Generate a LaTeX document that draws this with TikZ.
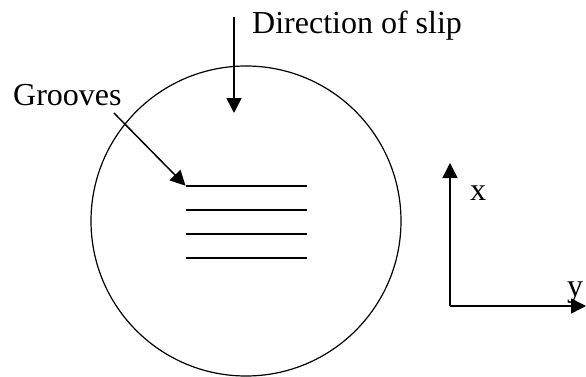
\documentclass[tikz,border=0pt]{standalone}
\usepackage{fontspec}
\setmainfont{Liberation Serif}
\usetikzlibrary{arrows.meta, positioning}

\begin{document}
\begin{tikzpicture}[x=1pt, y=1pt, >={Triangle[length=15pt, width=15pt]},
    lbl/.style={inner sep=0pt, anchor=base west, font=\fontsize{32}{38}\selectfont},
    arr/.style={->, line width=1.5pt},
    groove/.style={line width=1.7pt}]
    \useasboundingbox (0,0) rectangle (586,376);
    % specimen
    \draw[line width=1.2pt] (246,155) circle [radius=155pt];
    \draw[groove] (185.5,190.3) -- (306.5,190.3);
    \draw[groove] (185.5,166.3) -- (306.5,166.3);
    \draw[groove] (185.5,142.3) -- (306.5,142.3);
    \draw[groove] (185.5,118.3) -- (306.5,118.3);
    % labels
    \node[lbl] (slip) at (252,342.7) {Direction of slip};
    \node[lbl] (grooves) at (13,271) {Grooves};
    \coordinate (slipstart) at (234,359);
    \coordinate (slipend) at (234,263);
    \coordinate (gstart) at (114,263);
    \coordinate (gend) at (185.5,190.3);
    \draw[arr] (slipstart) -- (slipend);
    \draw[arr] (gstart) -- (gend);
    % axes
    \coordinate (o) at (450,70);
    \coordinate (xend) at (450,213);
    \coordinate (yend) at (586,70);
    \draw[arr] (o) -- (xend);
    \draw[arr] (o) -- (yend);
    \node[lbl] (xlab) at (470,175.3) {x};
    \node[lbl] (ylab) at (567,80) {y};
\end{tikzpicture}
\end{document}
